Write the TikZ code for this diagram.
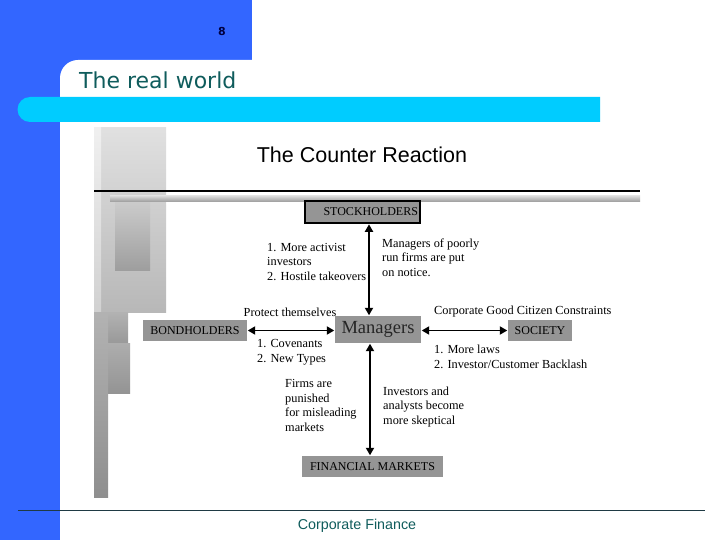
\documentclass[tikz,border=0pt]{standalone}
\usepackage{fontspec}
\setmainfont{Liberation Serif}
\newfontfamily\arialf{Liberation Sans}
\newfontfamily\comicf{DejaVu Sans}
\usetikzlibrary{arrows.meta}
\definecolor{slideblue}{HTML}{3366FF}
\definecolor{slidecyan}{HTML}{00CCFF}
\definecolor{slideteal}{HTML}{0F5C5C}
\definecolor{boxgray}{HTML}{959595}
\definecolor{footline}{HTML}{1F3A44}
\begin{document}
\begin{tikzpicture}[x=1pt,y=-1pt,
  box/.style={fill=boxgray, inner sep=0pt, font=\fontsize{12}{14}\selectfont},
  lbl/.style={align=left, anchor=west, inner sep=0pt, font=\fontsize{12.3}{14.5}\selectfont},
  dbl/.style={{Triangle[length=7.5pt,width=8pt]}-{Triangle[length=7.5pt,width=8pt]}, line width=1.9pt, shorten <=0.5pt, shorten >=0.5pt}]
\useasboundingbox (0,0) rectangle (720,540);
\fill[white] (0,0) rectangle (720,540);
% slide frame
\fill[slideblue] (0,0) rectangle (252,90);
\fill[slideblue] (0,0) rectangle (60,540);
\fill[white] (60,125) -- (60,78) arc[start angle=180,end angle=270,radius=18] -- (262,60) -- (262,125) -- cycle;
\fill[slidecyan] (600,97) -- (30,97) arc[start angle=270,end angle=90,radius=12.5] -- (600,122) -- cycle;
\node[font=\comicf\bfseries\fontsize{11}{12}\selectfont, text=black!75!blue] (pnum) at (222,31) {8};
\node[font=\comicf\fontsize{22}{26}\selectfont, text=slideteal, anchor=west, inner sep=0pt] (stitle) at (79,80) {The real world};
\draw[footline, line width=1pt] (18,510) -- (705,510);
\node[font=\arialf\fontsize{14.3}{16}\selectfont, text=slideteal] (foot) at (357,526) {Corporate Finance};
% ornament
\shade[top color=black!12, bottom color=black!28] (94,128) rectangle (166,312);
\shade[top color=black!6, bottom color=black!18] (94,128) rectangle (101,312);
\shade[top color=black!18, bottom color=black!38] (115,193) rectangle (150,270);
\shade[top color=black!30, bottom color=black!40] (103,312) rectangle (128,343);
\shade[top color=black!32, bottom color=black!42] (105,343) rectangle (130,393);
\shade[top color=black!30, bottom color=black!44] (94,312) rectangle (108,497);
% title
\node[font=\arialf\fontsize{21.5}{24}\selectfont] (title) at (362,155) {The Counter Reaction};
\draw[line width=2pt] (94,191) -- (640,191);
\shade[top color=black!15, bottom color=black!40] (110,196) rectangle (640,202);
% nodes
\node[box, draw=black, line width=1.6pt, minimum width=115pt, minimum height=22pt, text width=111pt, align=right] (stock) at (362.5,212) {STOCKHOLDERS};
\node[box, minimum width=86pt, minimum height=27pt, font=\fontsize{18.5}{20}\selectfont, text=black!85] (mgr) at (378,329.5) {Managers};
\node[box, minimum width=104pt, minimum height=21pt] (bond) at (195,330.5) {BONDHOLDERS};
\node[box, minimum width=64pt, minimum height=21pt] (soc) at (540,330.5) {SOCIETY};
\node[box, minimum width=141pt, minimum height=21pt] (fin) at (372.5,466.5) {FINANCIAL MARKETS};
% connectors
\draw[dbl] (stock.south -| 369,0) -- (mgr.north -| 369,0);
\draw[dbl] (mgr.south -| 370,0) -- (fin.north -| 370,0);
\draw[dbl] (bond.east) -- (mgr.west |- bond.east);
\draw[dbl] (mgr.east |- soc.west) -- (soc.west);
% labels
\node[lbl] (l1) at (267,262) {1. More activist\\investors\\2. Hostile takeovers};
\node[lbl] (l2) at (382,257.5) {Managers of poorly\\run firms are put\\on notice.};
\node[lbl, anchor=center] (l3) at (290,312) {Protect themselves};
\node[lbl] (l4) at (257,352.5) {1. Covenants\\2. New Types};
\node[lbl] (l5) at (434,312) {Corporate Good Citizen Constraints};
\node[lbl] (l6) at (434,357) {1. More laws\\2. Investor/Customer Backlash};
\node[lbl] (l7) at (285,405.5) {Firms are\\punished\\for misleading\\markets};
\node[lbl] (l8) at (383,407) {Investors and\\analysts become\\more skeptical};
\end{tikzpicture}
\end{document}
